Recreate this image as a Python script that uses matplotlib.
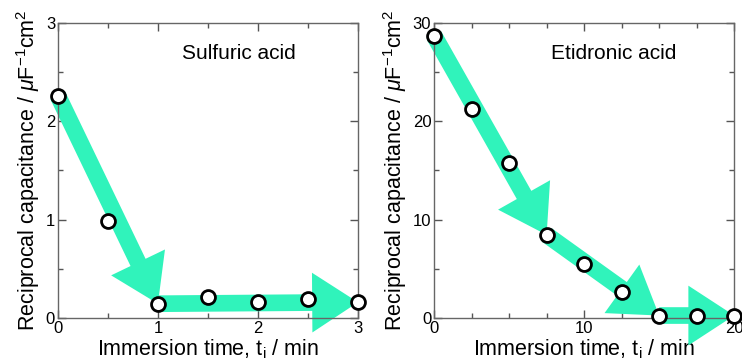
import matplotlib
matplotlib.use("Agg")
import matplotlib.pyplot as plt
from matplotlib.ticker import MultipleLocator

plt.rcParams['font.family'] = ['Liberation Sans', 'DejaVu Sans']
plt.rcParams['mathtext.fontset'] = 'custom'
plt.rcParams['mathtext.rm'] = 'Liberation Sans'
plt.rcParams['mathtext.it'] = 'Liberation Sans:italic'

# data
t_sulf = [0, 0.5, 1, 1.5, 2, 2.5, 3]
c_sulf = [2.26, 0.99, 0.145, 0.21, 0.16, 0.195, 0.16]

t_etid = [0, 2.5, 5, 7.5, 10, 12.5, 15, 17.5, 20]
c_etid = [28.7, 21.2, 15.8, 8.45, 5.5, 2.6, 0.25, 0.25, 0.25]

# arrows drawn between these point indices
arrows_sulf = [(0, 2), (2, 6)]
arrows_etid = [(0, 3), (3, 6), (6, 8)]

green = '#30F3BB'
ylab = 'Reciprocal capacitance / $\\mu$F$^{\\mathregular{-1}}$cm$^{\\mathregular{2}}$'
xlab = 'Immersion time, t$_{\\mathregular{i}}$ / min'


def panel(ax, t, c, arrows, xmax, ymax, xmaj, xmin_, ymaj, ymin_, name, name_x):
    for a, b in arrows:
        ax.annotate('', xy=(t[b], c[b]), xytext=(t[a], c[a]),
                    arrowprops=dict(arrowstyle='simple,head_length=3.3,head_width=4.3,tail_width=1.2',
                                    mutation_scale=10, color=green, lw=0,
                                    shrinkA=0, shrinkB=0), zorder=2)
    ax.plot(t, c, 'o', ms=10, mfc='white', mec='black', mew=2, zorder=3, clip_on=False)
    ax.set_xlim(0, xmax)
    ax.set_ylim(0, ymax)
    ax.xaxis.set_major_locator(MultipleLocator(xmaj))
    ax.xaxis.set_minor_locator(MultipleLocator(xmin_))
    ax.yaxis.set_major_locator(MultipleLocator(ymaj))
    ax.yaxis.set_minor_locator(MultipleLocator(ymin_))
    ax.tick_params(which='both', direction='in', top=True, right=True, color='#555555',
                   labelsize=12, pad=2)
    ax.tick_params(which='major', length=6, width=1)
    ax.tick_params(which='minor', length=3.5, width=1)
    for s in ax.spines.values():
        s.set_color('#666666')
        s.set_linewidth(1)
    ax.set_xlabel(xlab, fontsize=15.5, labelpad=1)
    ax.set_ylabel(ylab, fontsize=15.5, labelpad=3)
    ax.text(name_x, 0.895, name, transform=ax.transAxes, fontsize=15, va='center')


fig = plt.figure(figsize=(7.42, 3.63), dpi=100)
ax1 = fig.add_axes([0.078, 0.124, 0.4045, 0.813])
ax2 = fig.add_axes([0.585, 0.124, 0.4045, 0.813])

panel(ax1, t_sulf, c_sulf, arrows_sulf, 3, 3, 1, 0.5, 1, 0.5, 'Sulfuric acid', 0.415)
panel(ax2, t_etid, c_etid, arrows_etid, 20, 30, 10, 2.5, 10, 5, 'Etidronic acid', 0.39)

fig.savefig('out.png', dpi=100)
